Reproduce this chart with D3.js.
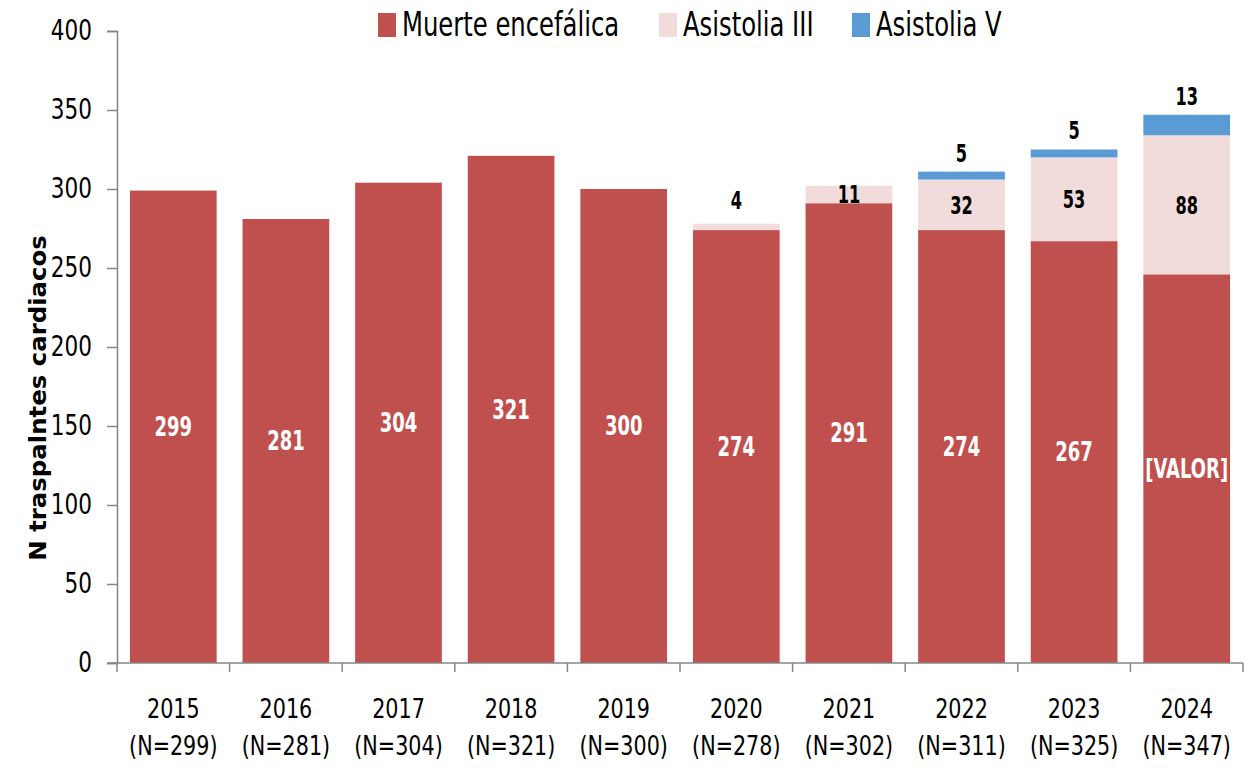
<!DOCTYPE html>
<html>
<head>
<meta charset="utf-8">
<script src="https://cdn.jsdelivr.net/npm/d3@7"></script>
<style>
  body { margin: 0; background: #fff; }
  text { font-family: "DejaVu Sans Condensed", "Liberation Sans Narrow", "Open Sans", sans-serif; }
</style>
</head>
<body>
<svg id="chart" width="1250" height="768"></svg>
<script>
var years = ["2015", "2016", "2017", "2018", "2019", "2020", "2021", "2022", "2023", "2024"];
var totals = [299, 281, 304, 321, 300, 278, 302, 311, 325, 347];
var muerte = [299, 281, 304, 321, 300, 274, 291, 274, 267, 246];
var asistolia3 = [0, 0, 0, 0, 0, 4, 11, 32, 53, 88];
var asistolia5 = [0, 0, 0, 0, 0, 0, 0, 5, 5, 13];
var muerteLabels = ["299", "281", "304", "321", "300", "274", "291", "274", "267", "[VALOR]"];
var yTicks = [0, 50, 100, 150, 200, 250, 300, 350, 400];
var seriesNames = ["Muerte encefálica", "Asistolia III", "Asistolia V"];
var colors = ["#C0504D", "#F2DCDB", "#5B9BD5"];

var svg = d3.select("#chart");
var m = {left: 117, right: 7, top: 31, bottom: 105};
var W = 1250, H = 768;

var x = d3.scaleBand().domain(years).range([m.left, W - m.right]).paddingInner(0.23).paddingOuter(0.115);
var xb = d3.scaleBand().domain(years).range([m.left, W - m.right]);
var y = d3.scaleLinear().domain([0, 400]).range([H - m.bottom, m.top]);

// text drawn with a vertical stretch, to mimic the tall narrow face of the original
function label(px, py, str, size, sy) {
  return svg.append("text")
    .attr("transform", "translate(" + px + "," + py + ") scale(1," + sy + ")")
    .attr("text-anchor", "middle").attr("dy", "0.36em")
    .attr("font-size", size).text(str);
}

var rows = years.map(function(yr, i) {
  return {year: yr, m: muerte[i], a3: asistolia3[i], a5: asistolia5[i]};
});
var layers = d3.stack().keys(["m", "a3", "a5"])(rows);

svg.selectAll("g.layer").data(layers).enter().append("g")
  .attr("class", "layer")
  .attr("fill", function(d, i) { return colors[i]; })
  .selectAll("rect").data(function(d) { return d; }).enter().append("rect")
  .attr("x", function(d) { return x(d.data.year); })
  .attr("width", x.bandwidth())
  .attr("y", function(d) { return y(d[1]); })
  .attr("height", function(d) { return y(d[0]) - y(d[1]); });

// axes
var axisColor = "#868686";
var yAxis = svg.append("g").attr("transform", "translate(" + m.left + ",0)")
  .call(d3.axisLeft(y).tickValues(yTicks).tickSize(10).tickPadding(15));
yAxis.select(".domain").attr("stroke", axisColor).attr("stroke-width", 1.5);
yAxis.selectAll(".tick line").attr("stroke", axisColor).attr("stroke-width", 1.5);
yAxis.selectAll(".tick text").attr("font-size", 24).attr("fill", "#000")
  .attr("transform", "scale(1,1.15)");

var y0 = y(0);
svg.append("line").attr("x1", m.left - 10).attr("x2", W - m.right).attr("y1", y0).attr("y2", y0)
  .attr("stroke", axisColor).attr("stroke-width", 1.5);
svg.selectAll("line.xt").data(d3.range(years.length + 1)).enter().append("line")
  .attr("class", "xt")
  .attr("x1", function(i) { return i < years.length ? xb(years[i]) : W - m.right; })
  .attr("x2", function(i) { return i < years.length ? xb(years[i]) : W - m.right; })
  .attr("y1", y0).attr("y2", y0 + 9)
  .attr("stroke", axisColor).attr("stroke-width", 1.5);

years.forEach(function(yr, i) {
  var c = xb(yr) + xb.bandwidth() / 2;
  label(c, 708, yr, 23, 1.19);
  label(c, 745, "(N=" + totals[i] + ")", 23, 1.19);
});

// y title
svg.append("text").attr("transform", "translate(46,398) rotate(-90) scale(1.18,1)")
  .attr("text-anchor", "middle").attr("font-size", 23).attr("font-weight", "bold")
  .attr("font-family", "'Liberation Sans', Arial, sans-serif")
  .text("N traspalntes cardiacos");

// data labels
var cx = function(i) { return x(years[i]) + x.bandwidth() / 2; };
muerte.forEach(function(v, i) {
  label(cx(i), y(v / 2), muerteLabels[i], 20, 1.3).attr("font-weight", "bold").attr("fill", "#fff");
});
asistolia3.forEach(function(v, i) {
  if (!v) return;
  var yy = v < 8 ? y(muerte[i] + v) - 24 : y(muerte[i] + v / 2);
  label(cx(i), yy, v, 18, 1.38).attr("font-weight", "bold").attr("fill", "#000");
});
asistolia5.forEach(function(v, i) {
  if (!v) return;
  label(cx(i), y(muerte[i] + asistolia3[i] + v) - 19, v, 18, 1.38)
    .attr("font-weight", "bold").attr("fill", "#000");
});

// legend
var legX = [378, 659, 852];
seriesNames.forEach(function(name, i) {
  svg.append("rect").attr("x", legX[i]).attr("y", 13).attr("width", 18).attr("height", 24)
    .attr("fill", colors[i]);
  label(legX[i] + 24, 24, name, 27, 1.25).attr("text-anchor", "start");
});
</script>
</body>
</html>
